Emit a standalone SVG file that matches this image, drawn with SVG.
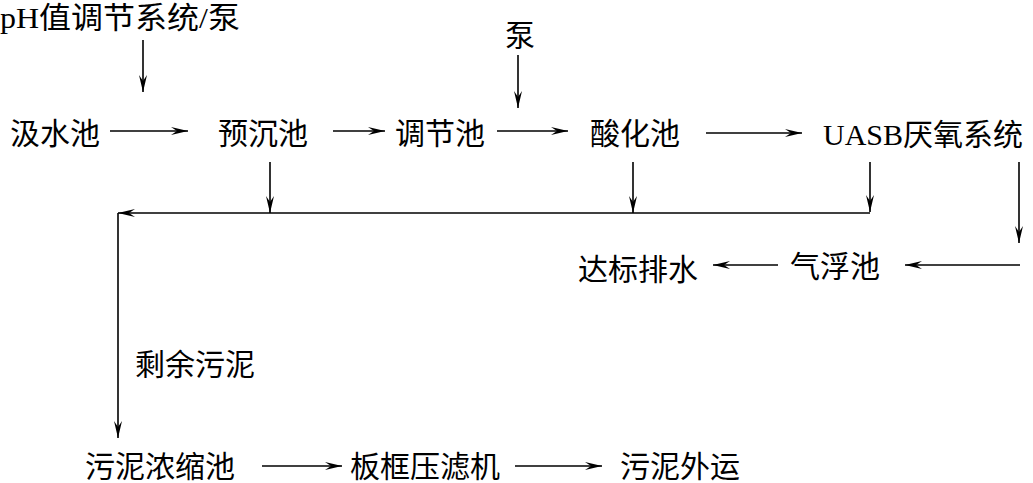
<svg xmlns="http://www.w3.org/2000/svg" width="1033" height="483" viewBox="0 0 1033 483">
<style>
text{font-family:"Liberation Serif","Noto Sans CJK SC",serif;font-size:30px;fill:#000}
.c line{stroke:#000;stroke-width:1.6;fill:none}
</style>
<defs>
<marker id="a" markerUnits="userSpaceOnUse" markerWidth="20" markerHeight="12" viewBox="-18 -6 20 12" refX="0" refY="0" orient="auto">
<path d="M0,0 L-17,-4 L-11,0 L-17,4 Z" fill="#000"/>
</marker>
</defs>
<g id="n-ph"><text x="0" y="28" textLength="240" lengthAdjust="spacingAndGlyphs">pH值调节系统/泵</text></g>
<g id="n-pump"><text x="505" y="46">泵</text></g>
<g id="n-jishui"><text x="10" y="144">汲水池</text></g>
<g id="n-yuchen"><text x="218" y="144">预沉池</text></g>
<g id="n-tiaojie"><text x="395" y="144">调节池</text></g>
<g id="n-suanhua"><text x="590" y="144">酸化池</text></g>
<g id="n-uasb"><text x="823" y="145">UASB厌氧系统</text></g>
<g id="n-qifu"><text x="790" y="277">气浮池</text></g>
<g id="n-dabiao"><text x="578" y="280">达标排水</text></g>
<g id="n-shengyu"><text x="135" y="375">剩余污泥</text></g>
<g id="n-nongsuo"><text x="85" y="477">污泥浓缩池</text></g>
<g id="n-banKuang"><text x="350" y="477">板框压滤机</text></g>
<g id="n-waiyun"><text x="620" y="477">污泥外运</text></g>
<g class="c" id="connectors">
<line x1="143" y1="40" x2="143" y2="92" marker-end="url(#a)"/>
<line x1="518" y1="55" x2="518" y2="108" marker-end="url(#a)"/>
<line x1="110" y1="131" x2="188" y2="131" marker-end="url(#a)"/>
<line x1="333" y1="131" x2="385" y2="131" marker-end="url(#a)"/>
<line x1="497" y1="131" x2="568" y2="131" marker-end="url(#a)"/>
<line x1="706" y1="133" x2="802" y2="133" marker-end="url(#a)"/>
<line x1="270" y1="162" x2="270" y2="213" marker-end="url(#a)"/>
<line x1="633" y1="162" x2="633" y2="213" marker-end="url(#a)"/>
<line x1="870" y1="162" x2="870" y2="212" marker-end="url(#a)"/>
<line x1="870" y1="213" x2="118" y2="213" marker-end="url(#a)"/>
<line x1="118" y1="213" x2="118" y2="438" marker-end="url(#a)"/>
<line x1="1019" y1="162" x2="1019" y2="243" marker-end="url(#a)"/>
<line x1="1020" y1="265" x2="905" y2="265" marker-end="url(#a)"/>
<line x1="778" y1="265" x2="713" y2="265" marker-end="url(#a)"/>
<line x1="262" y1="466" x2="342" y2="466" marker-end="url(#a)"/>
<line x1="515" y1="466" x2="602" y2="466" marker-end="url(#a)"/>
</g>
</svg>
